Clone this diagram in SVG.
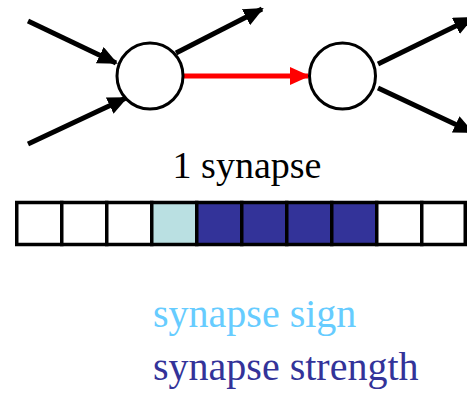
<svg xmlns="http://www.w3.org/2000/svg" width="467" height="393" viewBox="0 0 467 393">
<style>
.ax{stroke:#000;stroke-width:5;fill:none}
.nd{fill:#fff;stroke:#000;stroke-width:3}
.cell{stroke:#000;stroke-width:3.5}
.t{font-family:"Liberation Serif","Times New Roman",serif}
</style>
<defs>
<marker id="ab" markerUnits="userSpaceOnUse" markerWidth="20" markerHeight="18" refX="18" refY="9" orient="auto" viewBox="0 0 20 18">
<path d="M0,0 L20,9 L0,18 Z" fill="#000"/>
</marker>
<marker id="ar" markerUnits="userSpaceOnUse" markerWidth="20" markerHeight="18" refX="18" refY="9" orient="auto" viewBox="0 0 20 18">
<path d="M0,0 L20,9 L0,18 Z" fill="#f00"/>
</marker>
</defs>
<rect width="467" height="393" fill="#fff"/>
<g id="connectors">
<line class="ax" x1="28" y1="21" x2="116" y2="63" marker-end="url(#ab)"/>
<line class="ax" x1="28" y1="144" x2="126" y2="98" marker-end="url(#ab)"/>
<line class="ax" x1="176" y1="53" x2="262" y2="9" marker-end="url(#ab)"/>
<line x1="184" y1="76" x2="308" y2="76" stroke="#f00" stroke-width="5" marker-end="url(#ar)"/>
<line class="ax" x1="378" y1="64" x2="472" y2="18" marker-end="url(#ab)"/>
<line class="ax" x1="378" y1="88" x2="472" y2="132" marker-end="url(#ab)"/>
</g>
<g id="neuron1"><circle class="nd" cx="150" cy="76" r="33"/></g>
<g id="neuron2"><circle class="nd" cx="342.5" cy="76" r="33"/></g>
<g id="label"><text class="t" x="247" y="178" font-size="38" text-anchor="middle">1 synapse</text></g>
<g id="bits">
<rect class="cell" x="16.75" y="202.5" width="45" height="42" fill="#fff"/>
<rect class="cell" x="61.75" y="202.5" width="45" height="42" fill="#fff"/>
<rect class="cell" x="106.75" y="202.5" width="45" height="42" fill="#fff"/>
<rect class="cell" x="151.75" y="202.5" width="45" height="42" fill="#bae0e2"/>
<rect class="cell" x="196.75" y="202.5" width="45" height="42" fill="#333399"/>
<rect class="cell" x="241.75" y="202.5" width="45" height="42" fill="#333399"/>
<rect class="cell" x="286.75" y="202.5" width="45" height="42" fill="#333399"/>
<rect class="cell" x="331.75" y="202.5" width="45" height="42" fill="#333399"/>
<rect class="cell" x="376.75" y="202.5" width="45" height="42" fill="#fff"/>
<rect class="cell" x="421.75" y="202.5" width="43.5" height="42" fill="#fff"/>
</g>
<g id="legend">
<text class="t" x="153" y="327" font-size="40" fill="#66ccff">synapse sign</text>
<text class="t" x="153" y="380" font-size="40" fill="#333399">synapse strength</text>
</g>
</svg>
